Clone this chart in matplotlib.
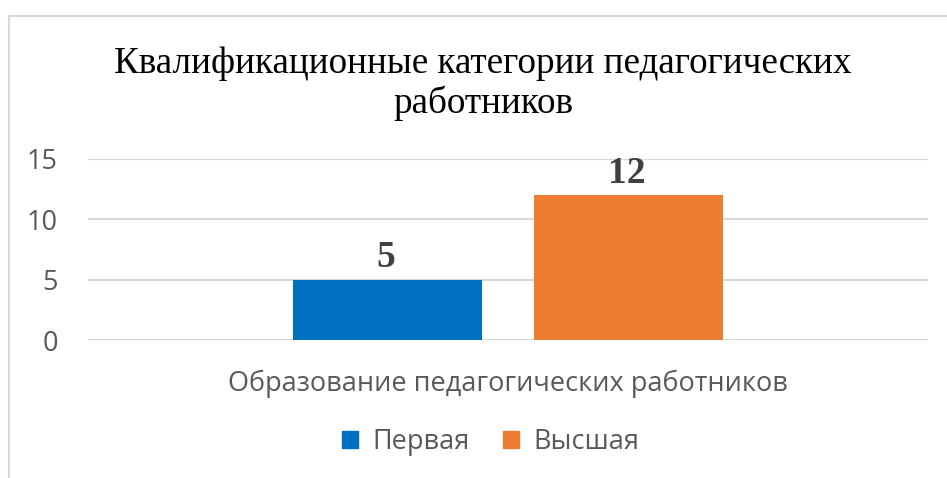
import matplotlib.pyplot as plt
from matplotlib.lines import Line2D
from matplotlib.patches import Patch

# chart data
category = "Образование педагогических работников"
series = ["Первая", "Высшая"]
values = [5, 12]
colors = ["#0070C0", "#ED7D31"]
title = "Квалификационные категории педагогических\nработников"

fig = plt.figure(figsize=(9.47, 4.78), dpi=100)
ax = fig.add_axes([0.0929, 0.2887, 0.887, 0.3787])

# chart frame (only top and left edges are visible in the crop)
fig.add_artist(Line2D([9 / 947, 9 / 947], [0, 1 - 16 / 478], color="#D9D9D9", lw=1.5))
fig.add_artist(Line2D([9 / 947, 1], [1 - 16 / 478, 1 - 16 / 478], color="#D9D9D9", lw=1.5))

bar_w = 0.225
gap = 0.062
offsets = [-(bar_w + gap) / 2, (bar_w + gap) / 2]
for off, v, c in zip(offsets, values, colors):
    ax.bar(off, v, width=bar_w, color=c, zorder=3)
    ax.annotate(str(v), (off, v), xytext=(-1, 3), textcoords="offset points",
                ha="center", va="bottom", family="Liberation Serif",
                fontweight="bold", fontsize=27, color="#404040")

ax.set_xlim(-0.5, 0.5)
ax.set_ylim(0, 15)
ax.set_yticks([0, 5, 10, 15])
ax.grid(axis="y", color="#D9D9D9", lw=1.5, zorder=0)
for s in ax.spines.values():
    s.set_visible(False)
ax.tick_params(axis="y", length=0, pad=21.6, labelsize=19.5, labelcolor="#595959")
for lab in ax.get_yticklabels():
    lab.set_family("Open Sans")
ax.set_xticks([0])
ax.set_xticklabels([category], family="Open Sans", fontsize=19.5, color="#595959")
ax.tick_params(axis="x", length=0, pad=21)

fig.text(0.510, 1 - 84 / 478, title, ha="center", va="center", linespacing=1.15,
         family="Liberation Serif", fontsize=26.7, color="black")

handles = [Patch(color=c, label=s) for s, c in zip(series, colors)]
fig.legend(handles=handles, loc="center", bbox_to_anchor=(0.518, 1 - 442 / 478),
           ncol=2, frameon=False, handlelength=0.6, handleheight=0.6,
           handletextpad=0.5, columnspacing=1.25,
           prop={"family": "Open Sans", "size": 19.5})
for t in fig.legends[0].get_texts():
    t.set_color("#595959")

fig.savefig("out.png", dpi=100)
